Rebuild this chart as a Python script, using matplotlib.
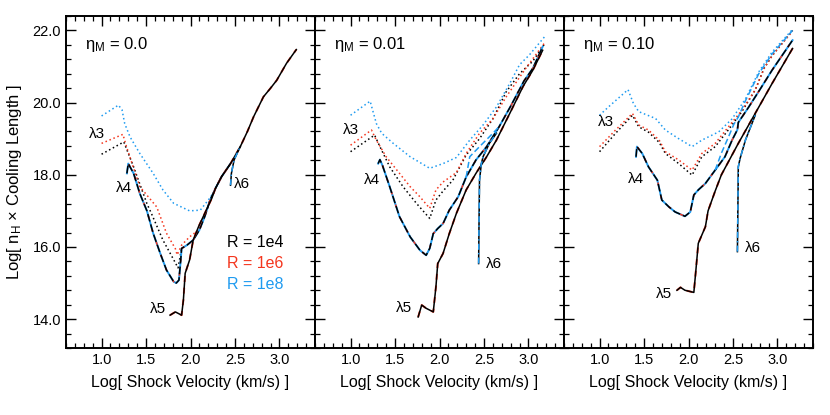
import numpy as np
import matplotlib
matplotlib.use("Agg")
import matplotlib.pyplot as plt
from matplotlib.ticker import MultipleLocator

plt.rcParams['font.family'] = ['Liberation Sans', 'DejaVu Sans']
plt.rcParams['mathtext.fontset'] = 'custom'
plt.rcParams['mathtext.rm'] = 'Liberation Sans'
plt.rcParams['mathtext.it'] = 'Liberation Sans:italic'

RED = '#f4361e'
BLUE = '#1f9bf0'

eta_labels = ['0.0', '0.01', '0.10']

# ---- panel 1 : eta_M = 0.0
p1_l3_r8_x = [1.0, 1.19, 1.23, 1.26, 1.32, 1.43, 1.58, 1.69, 1.81, 1.99, 2.11, 2.20, 2.26]
p1_l3_r8_y = [19.63, 19.93, 19.80, 19.42, 19.05, 18.59, 18.04, 17.58, 17.21, 17.00, 17.02, 17.30, 17.50]
p1_l3_r6_x = [1.0, 1.24, 1.28, 1.43, 1.62, 1.73, 1.83, 1.85, 1.90, 1.99, 2.09, 2.14, 2.20]
p1_l3_r6_y = [18.87, 19.12, 18.78, 17.67, 17.11, 16.38, 15.95, 15.78, 16.05, 16.28, 16.47, 16.74, 17.11]
p1_l3_r4_x = [1.0, 1.25, 1.36, 1.51, 1.56, 1.69, 1.81, 1.86, 1.90]
p1_l3_r4_y = [18.57, 18.91, 18.22, 17.20, 16.93, 16.19, 15.65, 15.42, 15.96]
p1_l4_x = [1.285, 1.30, 1.36, 1.43, 1.51, 1.58, 1.66, 1.73, 1.81, 1.84, 1.87, 1.89, 1.90,
           1.96, 2.03, 2.10, 2.16, 2.22, 2.28, 2.35, 2.45]
p1_l4_y = [18.04, 18.31, 18.04, 17.48, 17.00, 16.38, 15.82, 15.36, 15.04, 15.00, 15.08, 15.64, 15.96,
           16.05, 16.19, 16.47, 16.84, 17.30, 17.62, 17.95, 18.31]
p1_l5_x = [1.77, 1.83, 1.90, 1.92, 1.94, 1.99, 2.03, 2.09, 2.16, 2.24, 2.28, 2.35, 2.45, 2.56,
           2.64, 2.71, 2.82, 2.90, 2.97, 3.08, 3.19]
p1_l5_y = [14.11, 14.20, 14.11, 14.53, 15.27, 15.64, 16.19, 16.56, 16.93, 17.35, 17.62, 17.95, 18.31, 18.78,
           19.20, 19.61, 20.16, 20.40, 20.62, 21.09, 21.47]
p1_l6_x = [2.45, 2.46, 2.49, 2.54, 2.56]
p1_l6_y = [17.71, 18.04, 18.41, 18.68, 18.78]

# ---- panel 2 : eta_M = 0.01
p2_l3_r8_x = [1.0, 1.22, 1.29, 1.35, 1.48, 1.67, 1.89, 2.04, 2.19, 2.34, 2.49, 2.64, 2.79, 2.90, 3.01, 3.18]
p2_l3_r8_y = [19.65, 20.04, 19.42, 19.15, 18.87, 18.50, 18.18, 18.31, 18.48, 18.96, 19.38, 19.88, 20.53, 21.05, 21.32, 21.82]
p2_l3_r6_x = [1.0, 1.235, 1.29, 1.40, 1.55, 1.67, 1.78, 1.89, 1.96, 2.04, 2.19, 2.30, 2.45, 2.60, 2.75, 2.97, 3.18]
p2_l3_r6_y = [18.82, 19.24, 18.96, 18.50, 18.04, 17.67, 17.39, 17.07, 17.58, 17.80, 18.06, 18.59, 19.15, 19.55, 20.16, 20.95, 21.65]
p2_l3_r4_x = [1.0, 1.27, 1.33, 1.44, 1.59, 1.74, 1.89, 1.96, 2.04, 2.15, 2.30, 2.45, 2.60, 2.75, 2.90, 3.05, 3.18]
p2_l3_r4_y = [18.64, 19.10, 18.78, 18.22, 17.67, 17.21, 16.79, 17.30, 17.55, 17.85, 18.55, 19.00, 19.55, 20.30, 20.80, 21.15, 21.62]
p2_l4_x = [1.31, 1.33, 1.36, 1.44, 1.55, 1.67, 1.78, 1.85, 1.89, 1.93, 1.98, 2.04, 2.11, 2.21, 2.30,
           2.41, 2.53, 2.67, 2.80, 2.95, 3.05, 3.16]
p2_l4_y = [18.31, 18.42, 18.25, 17.67, 16.84, 16.28, 15.91, 15.77, 15.96, 16.37, 16.51, 16.65, 17.02, 17.39, 17.94,
           18.41, 18.78, 19.33, 19.90, 20.60, 20.95, 21.55]
p2_l4_r8_x = [2.30, 2.34, 2.45, 2.56, 2.67]
p2_l4_r8_y = [17.94, 18.50, 18.78, 19.05, 19.33]
p2_l5_x = [1.76, 1.80, 1.85, 1.93, 1.96, 1.98, 2.04, 2.11, 2.19, 2.30, 2.41, 2.53, 2.64, 2.79, 2.94, 3.05, 3.16]
p2_l5_y = [14.06, 14.39, 14.30, 14.20, 14.90, 15.54, 15.82, 16.37, 16.93, 17.58, 18.04, 18.50, 18.96, 19.70, 20.45, 20.90, 21.45]
p2_l6_x = [2.44, 2.445, 2.45, 2.47, 2.49, 2.56, 2.64]
p2_l6_y = [15.54, 16.80, 17.85, 18.30, 18.50, 18.87, 19.15]

# ---- panel 3 : eta_M = 0.10
p3_l3_r8_x = [1.0, 1.10, 1.32, 1.38, 1.44, 1.63, 1.74, 1.89, 2.04, 2.15, 2.34, 2.49, 2.64, 2.79, 2.94, 3.17]
p3_l3_r8_y = [19.65, 19.88, 20.36, 19.98, 19.75, 19.56, 19.24, 19.00, 18.78, 18.96, 19.19, 19.55, 20.10, 20.85, 21.40, 22.03]
p3_l3_r6_x = [1.0, 1.18, 1.37, 1.44, 1.55, 1.67, 1.74, 1.89, 2.04, 2.15, 2.30, 2.45, 2.60, 2.75, 2.85, 2.94, 3.17]
p3_l3_r6_y = [18.78, 19.24, 19.70, 19.38, 19.24, 18.96, 18.64, 18.41, 18.13, 18.59, 18.87, 19.33, 19.79, 20.35, 20.95, 21.30, 21.98]
p3_l3_r4_x = [1.0, 1.18, 1.37, 1.44, 1.55, 1.67, 1.74, 1.89, 2.04, 2.15, 2.30, 2.45, 2.60, 2.75, 2.85, 2.94, 3.17]
p3_l3_r4_y = [18.64, 19.15, 19.65, 19.33, 19.18, 18.90, 18.59, 18.31, 17.99, 18.50, 18.78, 19.25, 19.75, 20.35, 20.95, 21.30, 22.00]
p3_l4_x = [1.41, 1.42, 1.48, 1.55, 1.65, 1.70, 1.78, 1.85, 1.96, 2.02, 2.06, 2.11, 2.19, 2.30, 2.41,
           2.49, 2.55, 2.56, 2.67, 2.80, 2.94, 3.17]
p3_l4_y = [18.50, 18.78, 18.59, 18.22, 17.85, 17.30, 17.11, 16.97, 16.85, 16.97, 17.44, 17.58, 17.76, 18.13, 18.50,
           18.96, 19.25, 19.45, 19.85, 20.35, 20.90, 21.73]
p3_l4_r8_x = [2.30, 2.37, 2.45, 2.51, 2.56, 2.64, 2.79, 2.94, 3.17]
p3_l4_r8_y = [18.13, 18.60, 19.05, 19.40, 19.60, 20.05, 20.80, 21.35, 22.00]
p3_l5_x = [1.87, 1.91, 1.96, 2.06, 2.08, 2.11, 2.19, 2.22, 2.30, 2.37, 2.56, 2.75, 2.94, 3.17]
p3_l5_y = [14.80, 14.88, 14.80, 14.74, 15.27, 16.10, 16.56, 17.00, 17.55, 18.00, 18.87, 19.70, 20.53, 21.50]
p3_l6_x = [2.55, 2.555, 2.56, 2.58, 2.64, 2.75]
p3_l6_y = [15.87, 17.00, 18.22, 18.45, 18.96, 19.65]

# label positions (data coords) for lambda tags
lam_names = ['λ3', 'λ4', 'λ5', 'λ6']
p1_lam_xy = [(0.95, 19.13), (1.25, 17.63), (1.63, 14.28), (2.58, 17.74)]
p2_lam_xy = [(1.00, 19.24), (1.24, 17.85), (1.60, 14.30), (2.61, 15.54)]
p3_lam_xy = [(1.07, 19.45), (1.41, 17.88), (1.72, 14.71), (2.72, 15.98)]

legend_names = ['R = 1e4', 'R = 1e6', 'R = 1e8']
legend_cols = ['black', RED, BLUE]

panels = [
    dict(l3=[(p1_l3_r4_x, p1_l3_r4_y), (p1_l3_r6_x, p1_l3_r6_y), (p1_l3_r8_x, p1_l3_r8_y)],
         l4=(p1_l4_x, p1_l4_y), l4b=None, l5=(p1_l5_x, p1_l5_y), l6=(p1_l6_x, p1_l6_y), lam=p1_lam_xy),
    dict(l3=[(p2_l3_r4_x, p2_l3_r4_y), (p2_l3_r6_x, p2_l3_r6_y), (p2_l3_r8_x, p2_l3_r8_y)],
         l4=(p2_l4_x, p2_l4_y), l4b=(p2_l4_r8_x, p2_l4_r8_y), l5=(p2_l5_x, p2_l5_y), l6=(p2_l6_x, p2_l6_y), lam=p2_lam_xy),
    dict(l3=[(p3_l3_r4_x, p3_l3_r4_y), (p3_l3_r6_x, p3_l3_r6_y), (p3_l3_r8_x, p3_l3_r8_y)],
         l4=(p3_l4_x, p3_l4_y), l4b=(p3_l4_r8_x, p3_l4_r8_y), l5=(p3_l5_x, p3_l5_y), l6=(p3_l6_x, p3_l6_y), lam=p3_lam_xy),
]

fig, axes = plt.subplots(1, 3, figsize=(8.3, 4.15), dpi=100, sharey=True)
fig.subplots_adjust(left=66/830, right=813/830, bottom=1-348/415, top=1-16/415, wspace=0)

lw = 1.1
for i, (ax, p) in enumerate(zip(axes, panels)):
    cols = ['black', RED, BLUE]
    # lambda3: dotted
    for (x, y), c in zip(p['l3'], cols):
        ax.plot(x, y, color=c, lw=lw, ls=(0, (1, 1.8)))
    # lambda4: blue/red underneath, black dashes on top
    x4, y4 = p['l4']
    ax.plot(x4, y4, color=BLUE, lw=lw + 0.3)
    ax.plot(x4, y4, color=RED, lw=lw, ls=(2, (2, 7)))
    ax.plot(x4, y4, color='black', lw=lw, ls=(0, (5, 2)))
    if p['l4b'] is not None:
        ax.plot(p['l4b'][0], p['l4b'][1], color=BLUE, lw=lw, ls=(0, (4, 2)))
    # lambda5
    x5, y5 = p['l5']
    ax.plot(x5, y5, color=RED, lw=lw + 0.3, ls=(0, (3, 3)))
    ax.plot(x5, y5, color='black', lw=lw)
    # lambda6
    x6, y6 = p['l6']
    ax.plot(x6, y6, color='black', lw=lw)
    ax.plot(x6, y6, color=BLUE, lw=lw, ls=(0, (4, 2, 1, 2)))

    for name, (tx, ty) in zip(lam_names, p['lam']):
        ax.text(tx, ty, name, fontsize=11, ha='center', va='center')

    ax.text(0.076, 0.913, r'$\mathrm{\eta_M}$ = ' + eta_labels[i], transform=ax.transAxes,
            fontsize=12, ha='left', va='center')

    ax.set_xlim(0.6, 3.4)
    ax.set_ylim(13.2, 22.4)
    ax.xaxis.set_minor_locator(MultipleLocator(0.1))
    ax.yaxis.set_major_locator(MultipleLocator(2.0))
    ax.yaxis.set_minor_locator(MultipleLocator(0.4))
    ax.set_xticks([1.0, 1.5, 2.0, 2.5, 3.0])
    ax.set_xticklabels(['1.0', '1.5', '2.0', '2.5', '3.0'])
    ax.tick_params(which='both', direction='in', top=True, right=True, labelsize=10.5)
    ax.tick_params(which='major', length=7, width=1.0)
    ax.tick_params(which='minor', length=3.5, width=0.9)
    for s in ax.spines.values():
        s.set_linewidth(1.4)
    ax.set_xlabel('Log[ Shock Velocity (km/s) ]', fontsize=11.5, labelpad=6)

axes[0].set_yticks([14, 16, 18, 20, 22])
axes[0].set_yticklabels(['14.0', '16.0', '18.0', '20.0', '22.0'])
axes[0].set_ylabel(r'Log[ n$_\mathrm{H}$ × Cooling Length ]', fontsize=12, labelpad=6)
for ax in axes[1:]:
    ax.tick_params(labelleft=False)

for k, (nm, c) in enumerate(zip(legend_names, legend_cols)):
    axes[0].text(2.41, 16.12 - 0.575 * k, nm, color=c, fontsize=11.5, ha='left', va='center')

fig.savefig('out.png', dpi=100)
